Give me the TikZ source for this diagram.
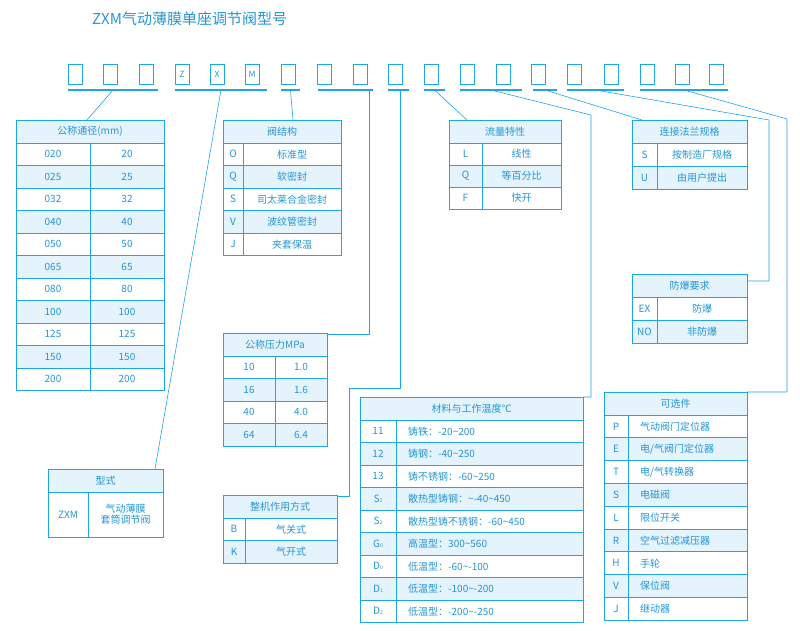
\documentclass[tikz,border=0pt]{standalone}
\usepackage{fontspec}
\setmainfont{Noto Sans CJK SC}
\definecolor{ln}{RGB}{30,165,228}
\definecolor{tx}{RGB}{35,150,215}
\definecolor{hd}{RGB}{228,243,252}
\tikzset{frm/.style={draw=ln,line width=0.9pt},
 con/.style={draw=ln,line width=0.6pt},
 txt/.style={text=tx,font=\fontsize{10}{11}\selectfont,inner sep=0pt},
}
\newcommand\mytable[9]{%
 \fill[hd] (#2,#5) rectangle (#3,#5+23);
 \node[txt] (#1) at ({(#2+#3)/2},#5+11.5) {#6};
 \foreach [count=\i] \a/\b in {#8} {
   \pgfmathsetmacro\yy{#5+23+(\i-1)*#7}
   \pgfmathparse{int(mod(\i,2))}
   \ifnum\pgfmathresult=0 \fill[hd] (#2,\yy) rectangle (#3,\yy+#7);\fi
   \draw[frm] (#2,\yy) -- (#3,\yy);
   \node[txt] at ({(#2+#4)/2},\yy+#7/2) {\a};
   \ifx#9c\node[txt,align=center] at ({(#4+#3)/2},\yy+#7/2) {\b};
   \else\node[txt,anchor=west] at (#4+12,\yy+#7/2) {\b};\fi
   \xdef\ylast{\yy}
 }
 \draw[frm] (#2,#5) rectangle (#3,\ylast+#7);
 \draw[frm] (#4,#5+23) -- (#4,\ylast+#7);
}
\newcommand\tl{\textasciitilde}
\begin{document}
\begin{tikzpicture}[x=1pt,y=-1pt]
\useasboundingbox (0,0) rectangle (800,630);
\node[anchor=west,text=tx,font=\fontsize{15}{16}\selectfont,inner sep=0pt] (title) at (92,19) {ZXM气动薄膜单座调节阀型号};
% top boxes
\foreach [count=\i] \x/\t in {68/,103/,139/,175/Z,210/X,245/M,281/,317/,353/,388/,424/,460/,496/,531/,567/,604/,640/,675/,709/}
  {\draw[ln,line width=0.8pt] (\x,64) rectangle (\x+14,84);
   \node[txt,font=\fontsize{8.5}{9}\selectfont] (b\i) at (\x+7,74) {\t};}
% underlines
\foreach \a/\b/\n in {68/158/g1,175/267/g2,281/300/g3,318/373/g4,388/409/g5,424/445/g6,460/522/g7,533/557/g8,567/624/g9,640/728/g10}
  {\draw[ln,line width=1.2pt] (\a,90) -- (\b,90); \coordinate (\n) at ({(\a+\b)/2},90);}
% tables
\mytable{tDN}{16}{164}{90}{120}{公称通径(mm)}{22.5}{020/20,025/25,032/32,040/40,050/50,065/65,080/80,100/100,125/125,150/150,200/200}{c}
\mytable{tJG}{223}{341}{243}{120}{阀结构}{22.5}{O/标准型,Q/软密封,S/司太莱合金密封,V/波纹管密封,J/夹套保温}{c}
\mytable{tPN}{223}{327}{275}{333}{公称压力MPa}{22.5}{10/1.0,16/1.6,40/4.0,64/6.4}{c}
\mytable{tZJ}{223}{337}{245}{495}{整机作用方式}{22.5}{B/气关式,K/气开式}{c}
\mytable{tXS}{48}{163}{88}{469}{型式}{45}{ZXM/{气动薄膜\\套筒调节阀}}{c}
\mytable{tLL}{449}{561}{482}{120}{流量特性}{22}{L/线性,Q/等百分比,F/快开}{c}
\mytable{tFL}{632}{747}{657}{120}{连接法兰规格}{23}{S/按制造厂规格,U/由用户提出}{c}
\mytable{tFB}{632}{747}{657}{274}{防爆要求}{23}{EX/防爆,NO/非防爆}{c}
\mytable{tCL}{360}{583}{396}{397}{材料与工作温度℃}{22.5}{11/铸铁：-20\tl200,12/铸钢：-40\tl250,13/铸不锈钢：-60\tl250,S{\tiny 1}/散热型铸钢：\tl-40\tl450,S{\tiny 2}/散热型铸不锈钢：-60\tl450,G{\tiny 0}/高温型：300\tl560,D{\tiny 0}/低温型：-60\tl-100,D{\tiny 1}/低温型：-100\tl-200,D{\tiny 2}/低温型：-200\tl-250}{l}
\mytable{tKX}{604}{747}{628}{392}{可选件}{22.8}{P/气动阀门定位器,E/{电/气阀门定位器},T/{电/气转换器},S/电磁阀,L/限位开关,R/空气过滤减压器,H/手轮,V/保位阀,J/继动器}{l}
% connectors
\draw[con] (g1) -- (87,120);
\draw[con] (g2) -- (155,469);
\draw[con] (g3) -- (293,120);
\draw[con] (g4) -- (369,90) -- (369,334) -- (327,334);
\draw[con] (g5) -- (400,90) -- (400,388) -- (349,388) -- (349,496) -- (337,496);
\draw[con] (g6) -- (467,120);
\draw[con] (g7) -- (591,115) -- (591,397) -- (583,397);
\draw[con] (g8) -- (642,120);
\draw[con] (g9) -- (769,120) -- (769,281) -- (747,281);
\draw[con] (g10) -- (787,119) -- (787,392) -- (747,392);
\end{tikzpicture}
\end{document}
